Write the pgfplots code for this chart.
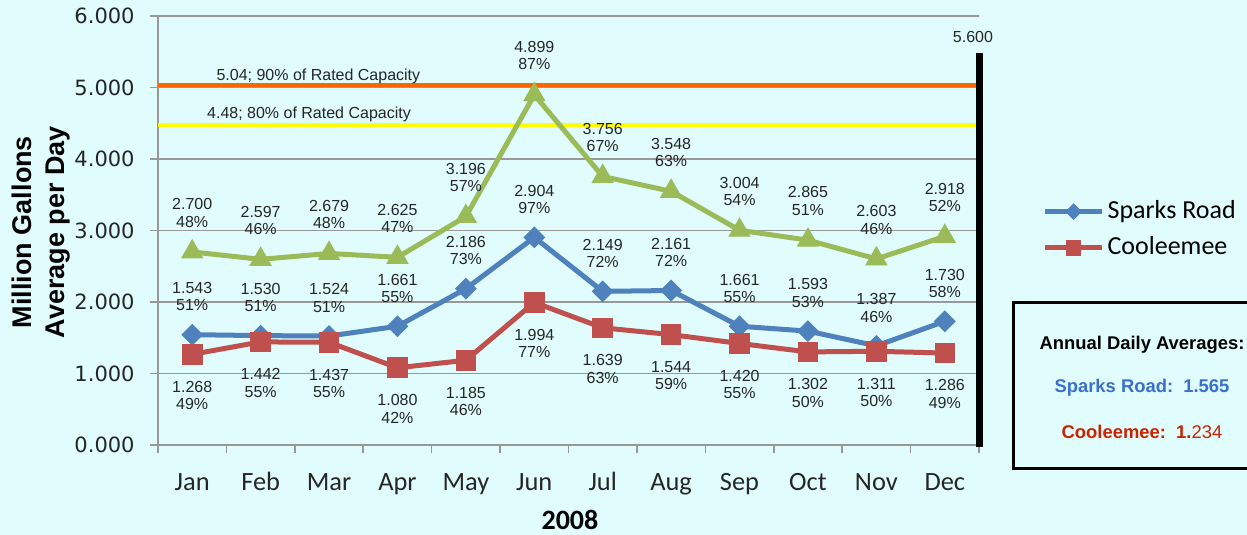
\documentclass[border=0pt]{standalone}
\usepackage{fontspec}
\setmainfont{Liberation Sans}
\newfontfamily\dejavu{DejaVu Sans}
\newfontfamily\calibri{Carlito}
\usepackage{pgfplots}
\usepackage{pgfplotstable}
\pgfplotsset{compat=1.18}
\definecolor{bg}{HTML}{E0FCFC}
\definecolor{sblue}{HTML}{4F81BD}
\definecolor{cred}{HTML}{C0504D}
\definecolor{ggreen}{HTML}{9BBB59}
\definecolor{gridc}{HTML}{989898}
\definecolor{orangeL}{HTML}{FF6600}
\definecolor{yellowL}{HTML}{FFFF00}
\definecolor{txtblue}{HTML}{3A6FD0}
\definecolor{txtred}{HTML}{CC2200}
\definecolor{tickc}{HTML}{262626}
\newcommand\lblfont{\fontsize{8bp}{8.7bp}\selectfont}

\pgfplotstableread{
x y p
0 2.700 48
1 2.597 46
2 2.679 48
3 2.625 47
4 3.196 57
5 4.899 87
6 3.756 67
7 3.548 63
8 3.004 54
9 2.865 51
10 2.603 46
11 2.918 52
}\greendata
\pgfplotstableread{
x y p
0 1.543 51
1 1.530 51
2 1.524 51
3 1.661 55
4 2.186 73
5 2.904 97
6 2.149 72
7 2.161 72
8 1.661 55
9 1.593 53
10 1.387 46
11 1.730 58
}\sparksdata
\pgfplotstableread{
x y p
0 1.268 49
1 1.442 55
2 1.437 55
3 1.080 42
4 1.185 46
5 1.994 77
6 1.639 63
7 1.544 59
8 1.420 55
9 1.302 50
10 1.311 50
11 1.286 49
}\cooldata

\pgfplotsset{
  lbl/.style={point meta=explicit symbolic,
    nodes near coords={\pgfmathprintnumber[fixed,fixed zerofill,precision=3]{\pgfkeysvalueof{/data point/y}}\\\pgfplotspointmeta\%},
    every node near coord/.append style={anchor=center, align=center, inner sep=0pt,
      font=\lblfont, text=tickc, draw=none, fill=none, yshift=#1}}
}

\begin{document}
\begin{tikzpicture}
\fill[bg] (0,0) rectangle (623.5bp,-267.5bp);
\useasboundingbox (0,0) rectangle (623.5bp,-267.5bp);
\begin{axis}[
  at={(79bp,-222.5bp)}, anchor=south west,
  scale only axis, width=410.5bp, height=214.5bp,
  xmin=-0.5, xmax=11.5, ymin=0, ymax=6,
  clip=false,
  axis x line*=bottom, axis y line*=left,
  axis line style={gridc, line width=0.8bp},
  ytick={0,1,2,3,4,5,6},
  ymajorgrids, grid style={gridc, line width=0.8bp},
  tick align=outside,
  major tick length=4bp, minor tick length=4bp,
  ytick style={gridc, line width=0.8bp},
  xtick={0,...,11},
  xticklabels={Jan,Feb,Mar,Apr,May,Jun,Jul,Aug,Sep,Oct,Nov,Dec},
  major x tick style={draw=none},
  minor xtick={-0.5,0.5,...,11.5},
  minor x tick style={gridc, line width=0.8bp},
  /pgf/number format/assume math mode=true,
  yticklabel style={/pgf/number format/.cd, fixed, fixed zerofill, precision=3, /tikz/.cd,
    font=\dejavu\fontsize{10.5bp}{12bp}\selectfont, text=tickc, anchor=east, inner sep=0pt, xshift=-7.5bp},
  xticklabel style={font=\calibri\fontsize{13.2bp}{15bp}\selectfont, text=tickc, anchor=base, inner sep=0pt, yshift=-18.5bp},
  ylabel={Million Gallons\\Average per Day},
  ylabel style={at={(axis description cs:-0.1425,0.4965)}, anchor=center, rotate=0, align=center,
    font=\bfseries\fontsize{13.5bp}{16.5bp}\selectfont},
  xlabel={2008},
  xlabel style={at={(axis description cs:0.5018,-0.1748)}, anchor=center,
    font=\calibri\bfseries\fontsize{14bp}{16bp}\selectfont},
  legend style={at={(1.077,0.502)}, anchor=west, draw=none, fill=none, inner sep=0pt,
    font=\calibri\fontsize{13bp}{15bp}\selectfont, row sep=2.5bp,
    nodes={inner sep=1.5bp, text height=9.5bp, text depth=3bp}},
  legend cell align=left,
  legend image code/.code={\draw[mark repeat=2,mark phase=2,#1, every mark/.append style={scale=0.75}]
    plot coordinates {(0bp,0bp) (14.25bp,0bp) (28.5bp,0bp)};},
]
% green labels (drawn beneath the capacity lines)
\addplot[draw=none, only marks, mark=*, mark size=0.01bp, mark options={draw=none,fill=none},
  lbl=19.5bp, forget plot] table[x=x, y=y, meta=p] {\greendata};
% capacity lines
\addplot[orangeL, line width=2bp, forget plot] coordinates {(-0.5,5.04) (11.5,5.04)};
\addplot[yellowL, line width=2bp, forget plot] coordinates {(-0.5,4.48) (11.5,4.48)};
\addplot[black, line width=3.5bp, forget plot] coordinates {(11.5,-0.03) (11.5,5.48)};
\node[font=\lblfont, text=tickc, anchor=base, inner sep=0pt] at (axis cs:1.844,5.105) {5.04; 90\% of Rated Capacity};
\node[font=\lblfont, text=tickc, anchor=base, inner sep=0pt] at (axis cs:1.707,4.573) {4.48; 80\% of Rated Capacity};
\node[font=\lblfont, text=tickc, anchor=center, inner sep=0pt] at (axis cs:11.412,5.706) {5.600};
% green series
\addplot[ggreen, line width=2.5bp, mark=triangle*, mark size=6bp, mark options={solid, line width=0.5bp, fill=ggreen, draw=ggreen}, forget plot]
  table[x=x, y=y] {\greendata};
% Sparks Road
\addplot[sblue, line width=2.5bp, mark=square*, mark size=3.6bp, mark options={solid, line width=0.5bp, rotate=45, fill=sblue, draw=sblue},
  lbl=19bp] table[x=x, y=y, meta=p] {\sparksdata};
\addlegendentry{Sparks Road}
% Cooleemee
\addplot[cred, line width=2.5bp, mark=square*, mark size=4.9bp, mark options={solid, line width=0.5bp, fill=cred, draw=cred},
  lbl=-20.5bp] table[x=x, y=y, meta=p] {\cooldata};
\addlegendentry{Cooleemee}
\end{axis}
\begin{scope}[x=0.5bp, y=-0.5bp]
\draw[black, line width=1.5bp] (1014,303) rectangle (1262,469);
\node[font=\bfseries\fontsize{9.2bp}{11bp}\selectfont, text=black] at (1142,345) {Annual Daily Averages:};
\node[font=\bfseries\fontsize{9.2bp}{11bp}\selectfont, text=txtblue] at (1142,388) {Sparks Road:~~1.565};
\node[font=\bfseries\fontsize{9.2bp}{11bp}\selectfont, text=txtred] at (1142,432) {Cooleemee:~~1.{\mdseries 234}};
\end{scope}
\end{tikzpicture}
\end{document}
